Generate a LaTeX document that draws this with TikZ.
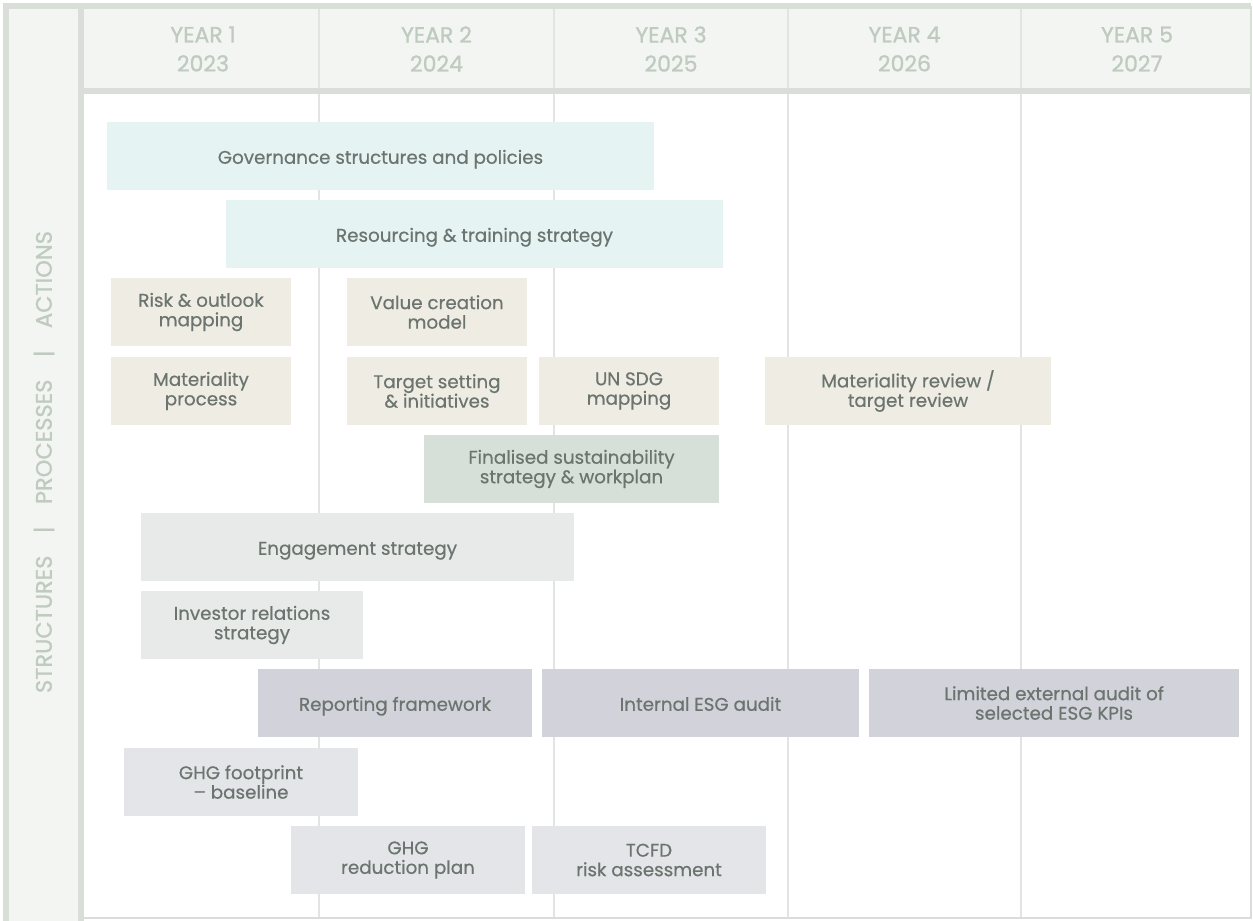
\documentclass[tikz,border=0pt]{standalone}
\usepackage{fontspec}
\setmainfont{Poppins}[FakeBold=0.5]
\newfontfamily\hdrfont{Poppins}[FakeBold=1.1]
\usepackage{tikz}
\usetikzlibrary{positioning}
\definecolor{framegrey}{HTML}{D9DED8}
\definecolor{hdrfill}{HTML}{F3F5F2}
\definecolor{hdrtext}{HTML}{BFCBBF}
\definecolor{gridgrey}{HTML}{E2E4E1}
\definecolor{bartext}{HTML}{6B746E}
\definecolor{govcyan}{HTML}{E6F3F3}
\definecolor{procbeige}{HTML}{EFEDE3}
\definecolor{stratgreen}{HTML}{D6E0D9}
\definecolor{engagegrey}{HTML}{E8EAE9}
\definecolor{reportlav}{HTML}{D1D2DA}
\definecolor{ghggrey}{HTML}{E4E5E9}

\begin{document}
\begin{tikzpicture}[
x=1pt,y=-1pt,
task/.style={inner sep=0pt,align=center,text=bartext,
font=\fontsize{18.3}{19.5}\selectfont,
minimum height=68pt},
oneline/.style={text height=18pt,text depth=2.5pt},
gov/.style={task,fill=govcyan},
proc/.style={task,fill=procbeige},
strat/.style={task,fill=stratgreen},
engage/.style={task,fill=engagegrey},
report/.style={task,fill=reportlav},
ghg/.style={task,fill=ghggrey},
yearlbl/.style={align=center,text=hdrtext,font=\hdrfont\fontsize{22}{29}\selectfont},
sidelbl/.style={rotate=90,text=hdrtext,font=\hdrfont\fontsize{22.5}{24}\selectfont},
gridline/.style={draw=gridgrey,line width=1.6pt},
frameline/.style={draw=framegrey,line width=6.5pt}
]
\useasboundingbox (0,0) rectangle (1253,921);
\fill[white] (0,0) rectangle (1253,921);
\fill[hdrfill] (6,6) rectangle (1251,91);
\fill[hdrfill] (6,6) rectangle (81,921);
\foreach \x in {319,554,788,1021} \draw[gridline] (\x,8) -- (\x,917);
\draw[framegrey,line width=2pt] (1251,6) -- (1251,918) -- (81,918);
\draw[frameline] (6,921) -- (6,6) -- (1251,6);
\draw[frameline] (81,6) -- (81,921);
\draw[frameline] (81,91) -- (1251,91);

\node[yearlbl] (yr1) at (203,49) {YEAR 1\\2023};
\node[yearlbl] (yr2) at (436.5,49) {YEAR 2\\2024};
\node[yearlbl] (yr3) at (671,49) {YEAR 3\\2025};
\node[yearlbl] (yr4) at (904.5,49) {YEAR 4\\2026};
\node[yearlbl] (yr5) at (1137,49) {YEAR 5\\2027};

\node[sidelbl] (side) at (44,462) {STRUCTURES\quad|\quad PROCESSES\quad|\quad ACTIONS};

\node[gov,oneline,minimum width=547pt] (govern) at (380.5,156) {Governance structures and policies};
\node[gov,oneline,minimum width=497pt] (resource) at (474.5,234) {Resourcing \& training strategy};
\node[proc,minimum width=180pt] (risk) at (201,312) {Risk \& outlook\\mapping};
\node[proc,minimum width=180pt] (value) at (437,312) {Value creation\\model};
\node[proc,minimum width=180pt] (material) at (201,391) {Materiality\\process};
\node[proc,minimum width=180pt] (target) at (437,391) {Target setting\\\& initiatives};
\node[proc,minimum width=180pt] (sdg) at (629,391) {UN SDG\\mapping};
\node[proc,minimum width=286pt] (review) at (908,391) {Materiality review /\\target review};
\node[strat,minimum width=295pt] (final) at (571.5,469) {Finalised sustainability\\strategy \& workplan};
\node[engage,oneline,minimum width=433pt] (engagement) at (357.5,547) {Engagement strategy};
\node[engage,minimum width=222pt] (investor) at (252,625) {Investor relations\\strategy};
\node[report,oneline,minimum width=274pt] (reporting) at (395,703) {Reporting framework};
\node[report,oneline,minimum width=317pt] (internal) at (700.5,703) {Internal ESG audit};
\node[report,minimum width=370pt] (external) at (1054,703) {Limited external audit of\\selected ESG KPIs};
\node[ghg,minimum width=234pt] (footprint) at (241,782) {GHG footprint\\– baseline};
\node[ghg,minimum width=234pt] (reduction) at (408,860) {GHG\\reduction plan};
\node[ghg,minimum width=234pt] (tcfd) at (649,860) {TCFD\\risk assessment};
\end{tikzpicture}
\end{document}
